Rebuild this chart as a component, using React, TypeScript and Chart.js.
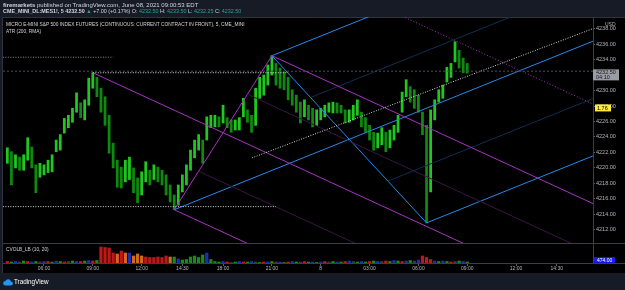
import React, { useEffect, useRef } from 'react';
import { Chart, registerables } from 'chart.js';

Chart.register(...registerables);

// 15-minute bars, x = bar number in trading time (0 = 06:00 Jun 7, 17:00-18:00 break removed)
const FIRST_BAR = -9;
const barLows = [
  4220.6, 4217.8, 4220.0, 4219.7, 4219.7, 4221.0, 4220.0, 4216.8, 4218.8, 4219.1,
  4219.4, 4219.5, 4222.1, 4222.3, 4224.5, 4225.2, 4225.9, 4227.2, 4226.5, 4226.2,
  4228.1, 4230.3, 4229.2, 4227.2, 4225.5, 4221.9, 4220.0, 4217.5, 4217.4, 4218.2,
  4218.5, 4216.8, 4215.5, 4216.5, 4218.2, 4217.8, 4218.5, 4218.2, 4217.8, 4216.5,
  4215.6, 4214.6, 4215.2, 4216.9, 4217.8, 4219.7, 4221.3, 4222.3, 4220.6, 4223.6,
  4225.2, 4225.3, 4225.3, 4225.8, 4225.2, 4224.6, 4224.9, 4224.9, 4226.6, 4225.9,
  4224.6, 4225.5, 4229.0, 4229.4, 4230.7, 4232.0, 4230.7, 4230.3, 4230.1, 4228.8,
  4228.1, 4227.2, 4225.8, 4226.6, 4226.2, 4225.3, 4225.5, 4226.2, 4226.6, 4227.2,
  4227.1, 4227.1, 4227.1, 4225.8, 4225.9, 4226.2, 4226.8, 4225.3, 4224.6, 4223.6,
  4222.3, 4222.6, 4223.0, 4222.1, 4222.6, 4223.6, 4224.6, 4227.2, 4229.2, 4228.5,
  4227.7, 4227.2, 4224.3, 4212.9, 4216.9, 4226.2, 4228.5, 4229.0, 4231.1, 4231.7,
  4233.7, 4232.9, 4232.3, 4232.25,
];
const barHighs = [
  4222.6, 4222.1, 4221.7, 4221.4, 4221.7, 4223.9, 4222.7, 4220.4, 4220.6, 4220.4,
  4221.0, 4221.7, 4223.6, 4224.3, 4226.4, 4226.8, 4227.7, 4229.7, 4228.4, 4228.8,
  4231.6, 4232.3, 4231.7, 4230.3, 4229.2, 4226.8, 4223.2, 4221.0, 4220.1, 4221.0,
  4221.4, 4220.0, 4218.7, 4219.5, 4220.8, 4219.7, 4220.4, 4220.1, 4219.7, 4219.1,
  4217.8, 4216.5, 4217.8, 4219.1, 4220.4, 4222.3, 4223.6, 4224.3, 4223.6, 4226.6,
  4226.8, 4226.8, 4226.6, 4228.1, 4226.5, 4226.2, 4226.2, 4226.5, 4229.0, 4227.5,
  4226.8, 4230.3, 4231.7, 4232.0, 4233.3, 4234.5, 4233.5, 4232.9, 4232.4, 4231.7,
  4230.1, 4229.4, 4228.5, 4228.8, 4228.1, 4227.7, 4227.5, 4227.7, 4228.1, 4228.4,
  4228.5, 4228.4, 4228.1, 4227.5, 4227.5, 4228.1, 4228.8, 4227.2, 4226.5, 4225.5,
  4224.6, 4224.5, 4225.2, 4224.6, 4224.9, 4225.5, 4226.8, 4229.8, 4231.4, 4230.5,
  4230.1, 4229.4, 4227.2, 4225.5, 4227.5, 4228.8, 4230.1, 4230.7, 4233.0, 4233.5,
  4236.3, 4235.2, 4234.2, 4233.5,
];
const volumeValues = [
  300, 200, 300, 200, 400, 300, 200, 300, 200, 300, 300, 200, 400, 300, 200, 300, 400, 300, 300, 400, 500, 400, 500,
  3200, 3100, 3000, 2000, 1800, 2400, 2000, 2000, 1400, 1800, 1400, 1200, 1100, 1100, 1200, 1100, 1400, 1200, 1200,
  800, 600, 700, 1200, 1400, 1100, 1600, 2000, 700, 300,
  200, 300, 200, 100, 200, 300, 200, 200, 300, 200, 100, 200, 200, 300, 200, 200, 100, 200, 300, 200,
  200, 300, 200, 200, 100, 200, 300, 200, 300, 200, 200, 300, 400, 300, 200, 300, 200, 300, 400, 300,
  300, 400, 300, 500, 400, 300, 400, 500, 400, 600,
  1400, 1100, 700, 400,
  300, 400, 300, 200, 300, 400, 300, 200,
];
const volumeColorCodes = (
  'rgbdgrbgdbrgbgrdgbrgbrg' +
  'rrrrorobooorrrrrrogbggggggbg' + 'g' +
  'gbrdgbrgbdgrbgdbgrbgdrgbgbrdgbgrbdgbgrgbdrgbgrbgdb' +
  'rrrb' +
  'gbgrdgbg'
).split('');

const timeTickPos = [0, 12, 24, 34, 44, 56, 68, 80, 92, 104, 116, 126];
const timeTickLabels = ['06:00', '09:00', '12:00', '14:30', '18:00', '21:00', '8', '03:00', '06:00', '09:00', '12:00', '14:30'];

const pivotBars = [12, 32, 56, 94]; // A (high), B (low), C (high), D (low)
const trendLineBars = [51.1, 134.9];
const trendLinePrices = [4221.3, 4238.0];
const levelPrices = [4234.3, 4215.0];
const levelStartBars = [-10.1, -10.1];
const levelEndBars = [17, 57];
const pivotLevelEndBar = 60;

const lastClose = 4232.5;
const countdown = '04:10';
const atrText = '1.76';
const atrLabelPrice = 4227.75;
const volumeLast = 474;

const X_MIN = -10.07;
const X_MAX = 134.9;
const X_END = 142;

const MAGENTA = '#a832c4';
const DIM_MAGENTA = '#3b1545';
const BLUE = '#238aea';
const DIM_BLUE = '#0f2f50';
const VOL_PALETTE: Record<string, string> = {
  r: '#c01818', o: '#d2691e', b: '#1c2fb8', g: '#1a8a1a', d: '#3a3a3a',
};
const AXIS_TEXT = '#b2b5be';
const FONT = 'Liberation Sans, Arial, sans-serif';

type P = { x: number; y: number };

function buildLines() {
  const list: any[] = [];
  const add = (pts: P[], color: string, dash: number[] = []) =>
    list.push({
      type: 'line', data: pts, borderColor: color, borderWidth: 1, borderDash: dash,
      pointRadius: 0, fill: false, tension: 0, yAxisID: 'y', xAxisID: 'x', order: 0,
    });
  const ext = (s: P, slope: number): P[] => [s, { x: X_END, y: s.y + slope * (X_END - s.x) }];
  const pitch = (p0: P, p1: P, p2: P, color: string, dim: string, extra: number[]) => {
    const m = { x: (p1.x + p2.x) / 2, y: (p1.y + p2.y) / 2 };
    const slope = (m.y - p0.y) / (m.x - p0.x);
    const at = (l: number): P => ({ x: m.x + l * (p2.x - m.x), y: m.y + l * (p2.y - m.y) });
    add(ext(at(0.5), slope), dim);
    add(ext(at(-0.5), slope), dim);
    extra.forEach((l) => add(ext(at(l), slope), color, [1, 2]));
    add(ext(p0, slope), color);
    add(ext(at(1), slope), color);
    add(ext(at(-1), slope), color);
    add([p1, p2], color);
  };
  const piv = (i: number, hi: boolean): P => ({
    x: pivotBars[i],
    y: (hi ? barHighs : barLows)[pivotBars[i] - FIRST_BAR],
  });
  const A = piv(0, true), B = piv(1, false), C = piv(2, true), D = piv(3, false);
  // horizontal levels
  add([{ x: X_MIN, y: lastClose }, { x: X_END, y: lastClose }], '#4c4f58', [2, 2]);
  add([{ x: levelStartBars[0], y: levelPrices[0] }, { x: levelEndBars[0], y: levelPrices[0] }], '#8a8d94', [1, 1.5]);
  add([{ x: levelStartBars[1], y: levelPrices[1] }, { x: levelEndBars[1], y: levelPrices[1] }], '#d8d8d8', [1, 1.5]);
  add([{ x: A.x, y: A.y }, { x: pivotLevelEndBar, y: A.y }], '#d8d8d8', [1, 1.5]);
  add(trendLineBars.map((x, i) => ({ x, y: trendLinePrices[i] })), '#d8d8d8', [1, 1.5]);
  pitch(A, B, C, MAGENTA, DIM_MAGENTA, [2]);
  pitch(B, C, D, BLUE, DIM_BLUE, []);
  return list;
}

function box(ctx: CanvasRenderingContext2D, x: number, y: number, w: number, h: number, bg: string) {
  ctx.fillStyle = bg;
  ctx.fillRect(x, y, w, h);
}

const panesPlugin = {
  id: 'panes',
  beforeDraw(chart: any) {
    const { ctx, width, height } = chart;
    const xs = chart.scales.x;
    ctx.save();
    ctx.fillStyle = '#171b26';
    ctx.fillRect(0, 0, width, height);
    ctx.fillStyle = '#000000';
    ctx.fillRect(3, chart.chartArea.top, width - 3, xs.bottom - chart.chartArea.top);
    ctx.strokeStyle = '#2f333e';
    ctx.lineWidth = 1;
    ctx.beginPath();
    ctx.moveTo(2.5, chart.chartArea.top);
    ctx.lineTo(2.5, xs.bottom);
    ctx.moveTo(2.5, chart.chartArea.top + 0.5);
    ctx.lineTo(width, chart.chartArea.top + 0.5);
    ctx.stroke();
    ctx.restore();
  },
  afterDraw(chart: any) {
    const { ctx } = chart;
    const y = chart.scales.y;
    const y2 = chart.scales.y2;
    const xs = chart.scales.x;
    const ax = chart.chartArea.right;
    ctx.save();
    ctx.strokeStyle = '#3a3e49';
    ctx.lineWidth = 1;
    ctx.beginPath();
    ctx.moveTo(3, Math.round(y.bottom) + 0.5);
    ctx.lineTo(chart.width, Math.round(y.bottom) + 0.5);
    ctx.moveTo(3, Math.round(xs.top) + 0.5);
    ctx.lineTo(chart.width, Math.round(xs.top) + 0.5);
    ctx.stroke();
    ctx.textBaseline = 'middle';
    ctx.textAlign = 'left';
    ctx.font = `5px ${FONT}`;
    ctx.fillStyle = AXIS_TEXT;
    ctx.fillText('USD', ax + 12, y.top + 7.5);
    // last price label
    const py = y.getPixelForValue(lastClose);
    box(ctx, ax, py - 1.8, 26, 11, '#9a9ca4');
    ctx.fillStyle = '#131722';
    ctx.font = `5.5px ${FONT}`;
    ctx.fillText(lastClose.toFixed(2), ax + 3, py + 1.3);
    ctx.fillText(countdown, ax + 3, py + 6.2);
    // ATR label
    const ay = y.getPixelForValue(atrLabelPrice);
    box(ctx, ax + 2, ay - 3.5, 16, 7, '#ffeb3b');
    ctx.fillStyle = '#000';
    ctx.fillText(atrText, ax + 4, ay + 0.2);
    // volume label
    const vy = Math.min(y2.getPixelForValue(volumeLast), y2.bottom - 3);
    box(ctx, ax + 1, vy - 2.8, 21, 5.6, '#1b1bff');
    ctx.fillStyle = '#ffffff';
    ctx.font = `5px ${FONT}`;
    ctx.fillText(volumeLast.toFixed(2), ax + 4, vy + 0.2);
    ctx.restore();
  },
};

export default function App() {
  const ref = useRef<HTMLCanvasElement>(null);
  useEffect(() => {
    const canvas = ref.current;
    if (!canvas) return;
    const ks = barLows.map((_, i) => FIRST_BAR + i);
    const mids = ks.map((_, i) => (barLows[i] + barHighs[i]) / 2);
    const priceColors = mids.map((m, i) => (i === 0 || m >= mids[i - 1] ? '#1fc81f' : '#0e8a0e'));
    const chart = new Chart(canvas, {
      type: 'bar',
      data: {
        datasets: [
          ...buildLines(),
          {
            type: 'bar',
            data: ks.map((k, i) => ({ x: k, y: [barLows[i], barHighs[i]] })),
            backgroundColor: priceColors,
            barThickness: 2.1,
            grouped: false,
            yAxisID: 'y', xAxisID: 'x', order: 5,
          },
          {
            type: 'bar',
            data: ks.map((k, i) => ({ x: k, y: volumeValues[i] })),
            backgroundColor: ks.map((_, i) => VOL_PALETTE[volumeColorCodes[i]] || VOL_PALETTE.g),
            barThickness: 2.6,
            grouped: false,
            yAxisID: 'y2', xAxisID: 'x', order: 5,
          },
        ] as any,
      },
      options: {
        responsive: false,
        maintainAspectRatio: false,
        animation: false,
        devicePixelRatio: 1,
        events: [],
        layout: { padding: { left: 3, top: 17, right: 0, bottom: 17 } },
        plugins: { legend: { display: false }, tooltip: { enabled: false } },
        scales: {
          x: {
            type: 'linear', min: X_MIN, max: X_MAX, offset: false, position: 'bottom',
            afterBuildTicks: (s: any) => { s.ticks = timeTickPos.map((v) => ({ value: v })); },
            afterFit: (s: any) => { s.height = 10; },
            ticks: {
              autoSkip: false, maxRotation: 0, padding: 0, color: AXIS_TEXT,
              font: { family: FONT, size: 5 },
              callback: (_v: any, i: number) => timeTickLabels[i],
            },
            grid: { drawOnChartArea: false, offset: false, tickLength: 3, tickColor: '#5d606b' },
            border: { display: false },
          },
          y: {
            type: 'linear', position: 'right', stack: 'panes', stackWeight: 226,
            min: 4210.3, max: 4239.5,
            afterFit: (s: any) => { s.width = 32; },
            ticks: {
              stepSize: 2, includeBounds: false, autoSkip: false, padding: 1, color: AXIS_TEXT,
              font: { family: FONT, size: 5.5 },
              callback: (v: any) => Number(v).toFixed(2),
            },
            grid: { drawOnChartArea: false, tickLength: 2, tickColor: '#5d606b' },
            border: { display: true, color: '#3a3e49' },
          },
          y2: {
            type: 'linear', position: 'right', stack: 'panes', stackWeight: 20,
            min: 0, max: 4000,
            afterFit: (s: any) => { s.width = 32; },
            ticks: { display: false },
            grid: { display: false },
            border: { display: true, color: '#3a3e49' },
          },
        },
      } as any,
      plugins: [panesPlugin],
    });
    return () => chart.destroy();
  }, []);

  const t: React.CSSProperties = {
    position: 'absolute', whiteSpace: 'nowrap', fontFamily: FONT, color: '#d1d4dc', lineHeight: 1,
  };
  const teal = { color: '#26a69a' };
  return (
    <div style={{ position: 'fixed', left: 0, top: 0, width: 625, height: 290, background: '#171b26', overflow: 'hidden' }}>
      <canvas ref={ref} width={625} height={290} style={{ position: 'absolute', left: 0, top: 0, width: 625, height: 290 }} />
      <div style={{ ...t, left: 3, top: 2, fontSize: 6 }}>
        <b>firemarkets</b> published on TradingView.com, June 08, 2021 09:00:53 EDT
      </div>
      <div style={{ ...t, left: 3, top: 9.2, fontSize: 5.4 }}>
        <b>CME_MINI_DL:MES1!, 5</b> <b>4232.50</b> <span style={{ color: '#26a69a' }}>▲</span> +7.00 (+0.17%) O: <span style={teal}>4232.50</span> H: <span style={teal}>4233.50</span> L: <span style={teal}>4232.25</span> C: <span style={teal}>4232.50</span>
      </div>
      <div style={{ ...t, left: 6, top: 22.5, fontSize: 4.8 }}>
        MICRO E-MINI S&amp;P 500 INDEX FUTURES (CONTINUOUS: CURRENT CONTRACT IN FRONT), 5, CME_MINI
      </div>
      <div style={{ ...t, left: 6, top: 30.3, fontSize: 4.8 }}>ATR (200, RMA)</div>
      <div style={{ ...t, left: 6, top: 248.3, fontSize: 4.8 }}>CVOLB_LB (10, 20)</div>
      <svg style={{ position: 'absolute', left: 3, top: 278 }} width={10} height={8} viewBox="0 0 10 8">
        <path d="M2.4 7.6 H7.8 A2.1 2.1 0 0 0 7.9 3.4 A2.9 2.9 0 0 0 2.4 3.1 A2.25 2.25 0 0 0 2.4 7.6 Z" fill="#2196f3" />
      </svg>
      <div style={{ ...t, left: 14, top: 279, fontSize: 6.3, color: '#ffffff' }}>TradingView</div>
    </div>
  );
}
